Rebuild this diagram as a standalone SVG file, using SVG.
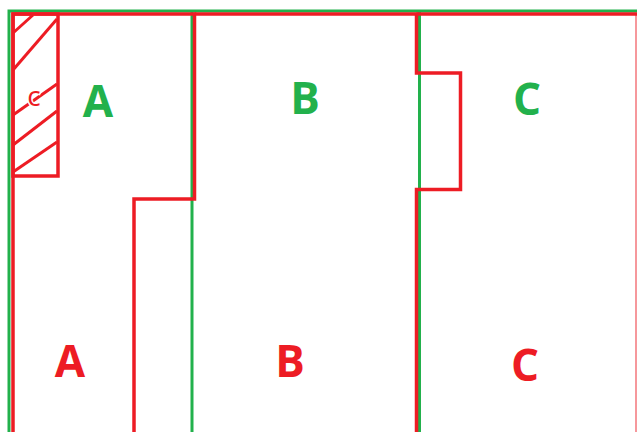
<svg xmlns="http://www.w3.org/2000/svg" width="637" height="432" viewBox="0 0 637 432">
<style>
.g{fill:none;stroke:#22b14c;stroke-width:3}
.r{fill:none;stroke:#ed1c24;stroke-width:3.5;stroke-linejoin:miter}
.h{stroke:#ed1c24;stroke-width:3}
.lg{font-family:"Open Sans","Liberation Sans",sans-serif;font-weight:bold;font-size:44px;fill:#22b14c;text-anchor:middle}
.lr{font-family:"Open Sans","Liberation Sans",sans-serif;font-weight:bold;font-size:44px;fill:#ed1c24;text-anchor:middle}
</style>
<rect width="637" height="432" fill="#fff"/>
<g id="connectors">
<path class="g" d="M9,432 V11 H637"/>
<line class="g" x1="192" y1="11" x2="192" y2="432"/>
<line class="g" x1="419.5" y1="11" x2="419.5" y2="432"/>
</g>
<g id="zone-A">
<path class="r" d="M13,432 V14 H194.5 V199 H134 V432"/>
<text class="lg" x="98" y="117">A</text>
<text class="lr" x="70" y="377">A</text>
</g>
<g id="zone-C-hatch">
<rect class="r" x="13" y="14" width="45" height="162"/>
<line class="h" x1="13" y1="33" x2="33" y2="15"/>
<line class="h" x1="13" y1="70" x2="57" y2="19"/>
<line class="h" x1="13" y1="115" x2="57" y2="84"/>
<line class="h" x1="13" y1="145" x2="57" y2="111"/>
<line class="h" x1="13" y1="172" x2="57" y2="142"/>
<text x="34" y="106" font-family="Open Sans, Liberation Sans, sans-serif" font-size="28" fill="#ed1c24" text-anchor="middle" stroke="#fff" stroke-width="3" paint-order="stroke">c</text>
</g>
<g id="zone-B">
<path class="r" d="M194.5,14 H416.5 V73 H460.5 V189.5 H416.5 V432"/>
<text class="lg" x="305" y="114">B</text>
<text class="lr" x="290" y="377">B</text>
</g>
<g id="zone-C">
<path class="r" d="M416.5,14 H637"/>
<line x1="636" y1="14" x2="636" y2="432" stroke="#ed1c24" stroke-width="1.5" opacity="0.6"/>
<text class="lg" x="527" y="115">C</text>
<text class="lr" x="525" y="381">C</text>
</g>
</svg>
